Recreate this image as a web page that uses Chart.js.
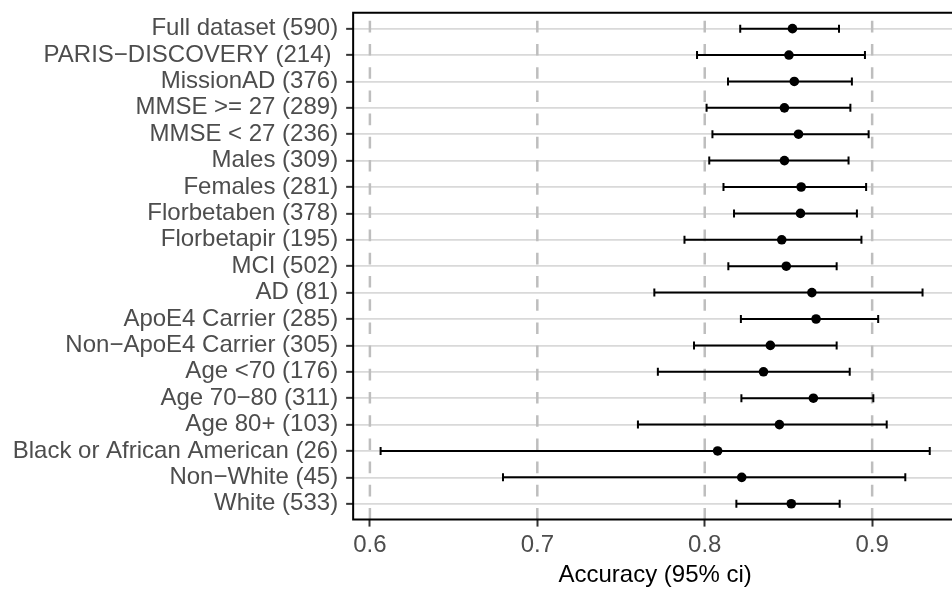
<!DOCTYPE html>
<html>
<head>
<meta charset="utf-8">
<script src="https://cdn.jsdelivr.net/npm/chart.js@4.4.1/dist/chart.umd.min.js"></script>
<style>
  html, body { margin: 0; padding: 0; background: #fff; }
  #wrap { width: 952px; height: 590px; overflow: hidden; position: relative; }
  canvas { display: block; }
</style>
</head>
<body>
<div id="wrap"><canvas id="myChart" width="962" height="590"></canvas></div>
<script>
// subgroups, top to bottom
const labels = [
  "Full dataset (590)", "PARIS\u2212DISCOVERY (214) ", "MissionAD (376)", "MMSE >= 27 (289)",
  "MMSE < 27 (236)", "Males (309)", "Females (281)", "Florbetaben (378)", "Florbetapir (195)",
  "MCI (502)", "AD (81)", "ApoE4 Carrier (285)", "Non\u2212ApoE4 Carrier (305)", "Age <70 (176)",
  "Age 70\u221280 (311)", "Age 80+ (103)", "Black or African American (26)", "Non\u2212White (45)", "White (533)"
];
const accuracy = [0.8524, 0.8503, 0.8535, 0.8476, 0.8560, 0.8476, 0.8576, 0.8572, 0.8460, 0.8487,
  0.8640, 0.8665, 0.8392, 0.8351, 0.8649, 0.8446, 0.8077, 0.8221, 0.8517];
const ciLow = [0.8212, 0.7954, 0.8139, 0.8011, 0.8046, 0.8027, 0.8112, 0.8175, 0.7879, 0.8141,
  0.7699, 0.8216, 0.7936, 0.7720, 0.8219, 0.7601, 0.6064, 0.6795, 0.8189];
const ciHigh = [0.8802, 0.8957, 0.8879, 0.8870, 0.8979, 0.8859, 0.8964, 0.8909, 0.8936, 0.8788,
  0.9301, 0.9036, 0.8788, 0.8866, 0.9007, 0.9087, 0.9344, 0.9198, 0.8806];
const xTicks = [0.6, 0.7, 0.8, 0.9];

Chart.defaults.font.family = "'Liberation Sans', Arial, Helvetica, sans-serif";

// dashed verticals + error bars under the points, frame on top
const forestPlugin = {
  id: 'forest',
  beforeDatasetsDraw: (chart) => {
    const {ctx, chartArea: {top, bottom}, scales: {x, y}} = chart;
    ctx.save();
    ctx.strokeStyle = '#bebebe';
    ctx.lineWidth = 2.5;
    ctx.setLineDash([11.6, 11.6]);
    xTicks.forEach(v => {
      const px = x.getPixelForValue(v);
      ctx.beginPath();
      ctx.moveTo(px, bottom);
      ctx.lineTo(px, top);
      ctx.stroke();
    });
    ctx.setLineDash([]);
    ctx.strokeStyle = '#000';
    ctx.lineWidth = 2;
    labels.forEach((_, i) => {
      const py = y.getPixelForValue(i);
      const x1 = x.getPixelForValue(ciLow[i]);
      const x2 = x.getPixelForValue(ciHigh[i]);
      ctx.beginPath();
      ctx.moveTo(x1, py); ctx.lineTo(x2, py);
      ctx.moveTo(x1, py - 4); ctx.lineTo(x1, py + 4);
      ctx.moveTo(x2, py - 4); ctx.lineTo(x2, py + 4);
      ctx.stroke();
    });
    ctx.restore();
  },
  afterDraw: (chart) => {
    const {ctx, chartArea: {top, bottom, left, right}} = chart;
    ctx.save();
    ctx.strokeStyle = '#000';
    ctx.lineWidth = 2;
    ctx.beginPath();
    ctx.moveTo(right, top);
    ctx.lineTo(left, top);
    ctx.lineTo(left, bottom);
    ctx.lineTo(right, bottom);
    ctx.stroke();
    ctx.restore();
  }
};

const ctx = document.getElementById('myChart').getContext('2d');
const myChart = new Chart(ctx, {
  type: 'scatter',
  data: {
    datasets: [{
      label: 'Accuracy',
      data: accuracy.map((a, i) => ({x: a, y: i})),
      pointRadius: 4.8,
      pointHoverRadius: 4.8,
      backgroundColor: '#000',
      borderWidth: 0
    }]
  },
  options: {
    responsive: false,
    animation: false,
    devicePixelRatio: 1,
    layout: {padding: {left: 0, right: 1, top: 10, bottom: 0}},
    plugins: {legend: {display: false}, tooltip: {enabled: false}},
    scales: {
      x: {
        type: 'linear',
        min: 0.59,
        max: 0.9508,
        afterBuildTicks: (axis) => { axis.ticks = xTicks.map(v => ({value: v})); },
        afterFit: (axis) => { axis.height = 70.4; },
        ticks: {
          autoSkip: false,
          maxRotation: 0,
          padding: 4,
          color: '#4d4d4d',
          font: {size: 24},
          callback: (v) => v.toFixed(1)
        },
        grid: {drawOnChartArea: false, drawTicks: true, tickLength: 7, tickColor: '#333', tickWidth: 2},
        border: {display: false},
        title: {display: true, text: 'Accuracy (95% ci)', color: '#000', font: {size: 24}, padding: {top: 0, bottom: 0}}
      },
      y: {
        type: 'linear',
        min: -0.6,
        max: 18.6,
        reverse: true,
        afterBuildTicks: (axis) => { axis.ticks = labels.map((_, i) => ({value: i})); },
        afterFit: (axis) => { axis.width = 353.15; },
        ticks: {
          autoSkip: false,
          padding: 8,
          color: '#4d4d4d',
          font: {size: 24, lineHeight: 0.4},
          callback: (v) => labels[v]
        },
        grid: {color: '#d9d9d9', lineWidth: 1.7, tickLength: 7, tickColor: '#333', tickWidth: 2},
        border: {display: false}
      }
    }
  },
  plugins: [forestPlugin]
});
</script>
</body>
</html>
